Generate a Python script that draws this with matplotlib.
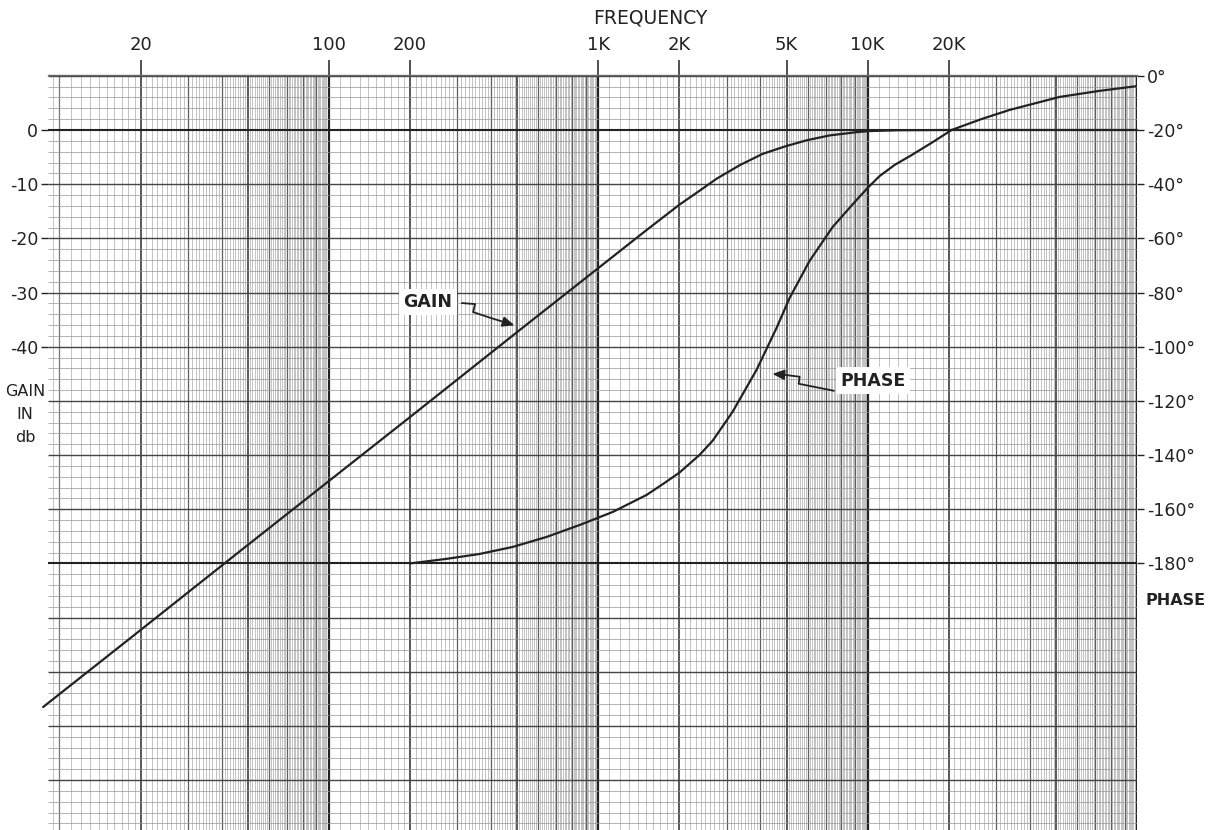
import numpy as np
import matplotlib
matplotlib.use("Agg")
import matplotlib.pyplot as plt
from matplotlib.lines import Line2D
from matplotlib.patches import FancyArrowPatch
from matplotlib.transforms import IdentityTransform

# ---- measured response -------------------------------------------------
gain_freq_hz = [8.7, 20, 50, 100, 200, 500, 1000, 1500, 2000, 2380, 2750,
                3350, 4080, 4960, 5940, 7230, 9100, 10170, 13000, 20000,
                50000, 100000]
gain_db = [-106.5, -92.3, -76.6, -64.8, -53.0, -37.3, -25.5, -18.6, -13.8,
           -11.2, -9.0, -6.5, -4.4, -3.0, -1.9, -1.0, -0.4, -0.2, -0.05,
           0.0, 0.0, 0.0]

phase_freq_hz = [200, 274, 363, 482, 644, 854, 1132, 1513, 1780, 2006, 2380,
                 2660, 3155, 3873, 4596, 5135, 6091, 7417, 9104, 10000, 11080,
                 12600, 14600, 17500, 20500, 26400, 33640, 51570, 72000,
                 100000]
phase_deg = [-180.0, -178.3, -176.5, -173.9, -170.2, -165.8, -161.0, -154.7,
             -150.0, -146.4, -139.9, -134.7, -124.0, -108.5, -93.0, -82.0,
             -68.3, -55.8, -45.8, -41.4, -37.0, -32.9, -29.2, -24.4, -20.0,
             -16.0, -12.6, -7.8, -5.6, -3.8]

freq_ticks = [20, 100, 200, 1000, 2000, 5000, 10000, 20000]
freq_tick_labels = ["20", "100", "200", "1K", "2K", "5K", "10K", "20K"]
gain_ticks = [0, -10, -20, -30, -40]
gain_tick_labels = ["0", "-10", "-20", "-30", "-40"]
phase_ticks = [0, -20, -40, -60, -80, -100, -120, -140, -160, -180]
phase_tick_labels = ["0\u00b0", "-20\u00b0", "-40\u00b0", "-60\u00b0", "-80\u00b0",
                     "-100\u00b0", "-120\u00b0", "-140\u00b0", "-160\u00b0", "-180\u00b0"]

# ---- sheet of log-linear graph paper ------------------------------------
F_LO, F_HI = 9.07, 1.0e5
G_LO, G_HI = -129.2, 10.15

INK = "#222222"
plt.rcParams["font.family"] = ["DejaVu Sans"]

fig = plt.figure(figsize=(12.19, 8.30), dpi=100)
fig.patch.set_facecolor("white")
ax = fig.add_axes([48 / 1219, 0.0, (1137 - 48) / 1219, (830 - 75) / 830])
ax.set_xscale("log")
ax.set_xlim(F_LO, F_HI)
ax.set_ylim(G_LO, G_HI)
ax.set_facecolor("white")

xtr = ax.get_xaxis_transform()
ytr = ax.get_yaxis_transform()

fine, whole, strong = [], [], []
for d in (10, 100, 1000, 10000):
    for m in np.arange(1.1, 10.0, 0.1):
        mr = round(m)
        if abs(m - mr) < 1e-6:
            (strong if mr in (2, 5) else whole).append(mr * d)
        else:
            fine.append(m * d)
ax.vlines(fine, 0, 1, transform=xtr, color="#a2a2a2", lw=0.45, zorder=1)
ax.vlines(whole, 0, 1, transform=xtr, color="#5e5e5e", lw=0.9, zorder=1)
ax.vlines(strong, 0, 1, transform=xtr, color="#3c3c3c", lw=1.2, zorder=1)
ax.vlines([9.5], 0, 1, transform=xtr, color="#b0b0b0", lw=0.5, zorder=1)
ax.vlines([10], 0, 1, transform=xtr, color="#777777", lw=0.9, zorder=1)
ax.vlines([100, 1000, 10000, 100000], 0, 1, transform=xtr,
          color=INK, lw=1.6, zorder=1)

h_fine = [g for g in np.arange(10, -130, -2) if g % 10 != 0]
h_major = [g for g in np.arange(10, -130, -10) if g not in (0, -80)]
ax.hlines(h_fine, 0, 1, transform=ytr, color="#959595", lw=0.5, zorder=1)
ax.hlines(h_major, 0, 1, transform=ytr, color="#444444", lw=1.0, zorder=1)
ax.hlines([0, -80], 0, 1, transform=ytr, color=INK, lw=1.5, zorder=1)

# ---- curves ---------------------------------------------------------------
ax.plot(gain_freq_hz, gain_db, color=INK, lw=1.6, zorder=5, clip_on=False,
        solid_capstyle="round", solid_joinstyle="round")

ax2 = ax.twinx()
ax2.set_ylim(2 * (G_LO - 10), 2 * (G_HI - 10))
ax2.plot(phase_freq_hz, phase_deg, color=INK, lw=1.6, zorder=5,
         solid_capstyle="round", solid_joinstyle="round")

# ---- axes dressing -------------------------------------------------------
for a in (ax, ax2):
    for s in a.spines.values():
        s.set_visible(False)
ax.spines["top"].set_visible(True)
ax.spines["top"].set_color("#6a6a6a")
ax.spines["top"].set_linewidth(1.0)

ax.xaxis.tick_top()
ax.set_xticks(freq_ticks)
ax.set_xticklabels(freq_tick_labels)
ax.xaxis.set_minor_locator(matplotlib.ticker.NullLocator())
ax.tick_params(axis="x", which="major", direction="out", length=11, width=1.1,
               color=INK, pad=4, labelsize=13, labelcolor=INK)

ax.set_yticks(gain_ticks)
ax.set_yticklabels(gain_tick_labels)
ax.tick_params(axis="y", which="major", direction="out", length=5, width=1.0,
               color=INK, pad=2, labelsize=12.5, labelcolor=INK)

ax2.set_yticks(phase_ticks)
ax2.set_yticklabels(phase_tick_labels)
ax2.tick_params(axis="y", which="major", direction="out", length=5, width=1.0,
                color=INK, pad=2, labelsize=12.5, labelcolor=INK)

fig.text(650 / 1219, 1 - 18 / 830, "FREQUENCY", ha="center", va="center",
         fontsize=13.5, color=INK)
for label, ypx in (("GAIN", 392), ("IN", 414), ("db", 437)):
    fig.text(25 / 1219, 1 - ypx / 830, label, ha="center", va="center",
             fontsize=11.5, color=INK)
fig.text(1176 / 1219, 1 - 600 / 830, "PHASE", ha="center", va="center",
         fontsize=11.5, color=INK, fontweight="bold")

# ---- call-out labels with squiggle leaders ------------------------------
fig.canvas.draw()


def callout(axis, anchor, tip_off, path_off, text, text_off):
    bx, by = axis.transData.transform(anchor)
    tx, ty = bx + tip_off[0], by + tip_off[1]
    xs = [tx + dx for dx, dy in path_off]
    ys = [ty + dy for dx, dy in path_off]
    fig.add_artist(Line2D(xs, ys, transform=IdentityTransform(), color=INK,
                          lw=1.3, zorder=6))
    fig.add_artist(FancyArrowPatch(
        (xs[-1], ys[-1]), (tx, ty), transform=IdentityTransform(),
        arrowstyle="-|>,head_length=7,head_width=3", color=INK, lw=1.3,
        zorder=6))
    fig.text((tx + text_off[0]) / fig.bbox.width,
             (ty + text_off[1]) / fig.bbox.height, text,
             ha="center", va="center", fontsize=12.5, color=INK,
             fontweight="bold",
             bbox=dict(boxstyle="square,pad=0.25", fc="white", ec="none"),
             zorder=7)


callout(ax, (gain_freq_hz[5], gain_db[5]), (0, 6),
        [(-55, 23), (-42, 22), (-44, 14), (-26, 8), (-13, 4)],
        "GAIN", (-89, 24))
callout(ax2, (phase_freq_hz[13], phase_deg[13]), (13, -4),
        [(64, -17), (29, -10), (30, -3), (14, -1)],
        "PHASE", (103, -7))

fig.savefig("out.png", dpi=100, facecolor="white")
